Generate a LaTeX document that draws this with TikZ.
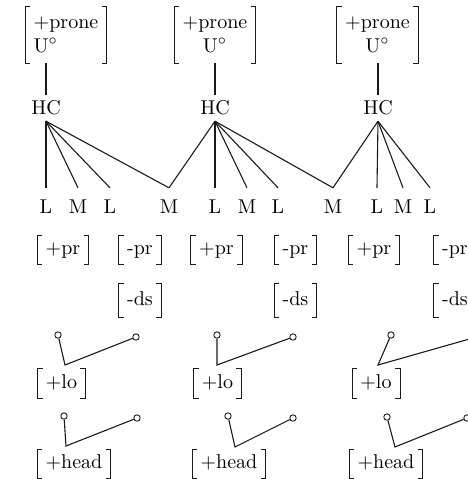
\documentclass[tikz,border=0pt]{standalone}
\usepackage{tikz}
\definecolor{ink}{HTML}{1A1A1A}
\usetikzlibrary{positioning}

\begin{document}
\begin{tikzpicture}[
  x=0.5pt,y=-0.5pt,
  font=\normalsize,
  seg/.style={inner xsep=1pt,inner ysep=6pt,text height=6.8pt,text depth=0pt},
  hcnode/.style={inner sep=3pt,text height=6.8pt,text depth=0pt},
  feat/.style={inner xsep=4pt,inner ysep=2.5pt,text height=7pt,text depth=2.5pt},
  topfeat/.style={inner xsep=4pt,inner ysep=5pt},
  brk/.style={draw=ink,line width=0.45pt},
  link/.style={draw=ink,line width=0.55pt},
  knob/.style={circle,draw=ink,line width=0.45pt,inner sep=0pt,minimum size=3.2pt}
]
\path[use as bounding box] (0,0) rectangle (468,479);
\clip (0,0) rectangle (468,479);

% Head classes
\node[topfeat,align=left] (prone1) at (66,34.5) {+prone\\U$^\circ$};
\node[topfeat,align=center] (prone2) at (215,34.5) {+prone\\U$^\circ$};
\node[topfeat,align=center] (prone3) at (377.5,34.5) {+prone\\U$^\circ$};
\node[hcnode] (hc1) at (46,108) {HC};
\node[hcnode] (hc2) at (215,108) {HC};
\node[hcnode] (hc3) at (378,108) {HC};

% Segments
\node[seg] (s1) at (46,207) {L};
\node[seg] (s2) at (78,207) {M};
\node[seg] (s3) at (110,207) {L};
\node[seg] (s4) at (169,207) {M};
\node[seg] (s5) at (215,207) {L};
\node[seg] (s6) at (247,207) {M};
\node[seg] (s7) at (278,207) {L};
\node[seg] (s8) at (333,207) {M};
\node[seg] (s9) at (377,207) {L};
\node[seg] (s10) at (403,207) {M};
\node[seg] (s11) at (430,207) {L};

% Features
\node[feat] (pr1) at (63,250) {+pr};
\node[feat] (pr2) at (140,250) {-pr};
\node[feat] (pr3) at (216.5,250) {+pr};
\node[feat] (pr4) at (295.5,250) {-pr};
\node[feat] (pr5) at (374,250) {+pr};
\node[feat] (pr6) at (455,250) {-pr};
\node[feat,inner ysep=3.5pt] (ds1) at (140,300.5) {-ds};
\node[feat,inner ysep=3.5pt] (ds2) at (295.5,300.5) {-ds};
\node[feat,inner ysep=3.5pt] (ds3) at (455,300.5) {-ds};
\node[feat] (lo1) at (61.5,383.5) {+lo};
\node[feat] (lo2) at (217.5,383.5) {+lo};
\node[feat] (lo3) at (376,383.5) {+lo};
\node[feat] (head1) at (74,464) {+head};
\node[feat] (head2) at (229,464) {+head};
\node[feat] (head3) at (386,464) {+head};

\foreach \n in {prone1,prone2,prone3,pr1,pr2,pr3,pr4,pr5,pr6,ds1,ds2,ds3,lo1,lo2,lo3,head1,head2,head3}{
  \draw[brk] ([xshift=2.5pt]\n.north west) -- (\n.north west) -- (\n.south west) -- ([xshift=2.5pt]\n.south west);
  \draw[brk] ([xshift=-2.5pt]\n.north east) -- (\n.north east) -- (\n.south east) -- ([xshift=-2.5pt]\n.south east);
}

% Association lines
\draw[link] (hc1.north) -- (hc1.north |- prone1.south);
\draw[link] (hc2.north) -- (hc2.north |- prone2.south);
\draw[link] (hc3.north) -- (hc3.north |- prone3.south);
\foreach \s in {s1,s2,s3,s4} {\draw[link] (hc1.south) -- (\s.north);}
\foreach \s in {s4,s5,s6,s7,s8} {\draw[link] (hc2.south) -- (\s.north);}
\foreach \s in {s8,s9,s10,s11} {\draw[link] (hc3.south) -- (\s.north);}

% Hooks above [+lo]
\node[knob] (lo1a) at (58,335) {};
\coordinate (lo1v) at (65,365);
\node[knob] (lo1b) at (136,337) {};
\node[knob] (lo2a) at (217,335) {};
\coordinate (lo2v) at (217,365);
\node[knob] (lo2b) at (293,337) {};
\node[knob] (lo3a) at (391,335) {};
\coordinate (lo3v) at (378,365);
\node[knob] (lo3b) at (480,336) {};
\draw[link] (lo1a) -- (lo1v) -- (lo1b);
\draw[link] (lo2a) -- (lo2v) -- (lo2b);
\draw[link] (lo3a) -- (lo3v) -- (lo3b);

% Hooks above [+head]
\node[knob] (hd1a) at (64,416) {};
\coordinate (hd1v) at (66,446);
\node[knob] (hd1b) at (137,418) {};
\node[knob] (hd2a) at (228,416) {};
\coordinate (hd2v) at (235,447);
\node[knob] (hd2b) at (293,418) {};
\node[knob] (hd3a) at (387,417) {};
\coordinate (hd3v) at (395,447);
\node[knob] (hd3b) at (467,418) {};
\draw[link] (hd1a) -- (hd1v) -- (hd1b);
\draw[link] (hd2a) -- (hd2v) -- (hd2b);
\draw[link] (hd3a) -- (hd3v) -- (hd3b);
\end{tikzpicture}
\end{document}
